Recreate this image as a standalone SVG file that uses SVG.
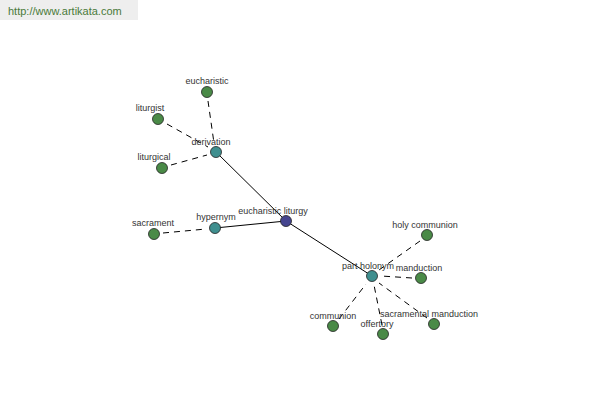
<svg xmlns="http://www.w3.org/2000/svg" width="600" height="400" viewBox="0 0 600 400">
<style>
text{font-family:"Liberation Sans",Arial,sans-serif;font-size:9px;fill:#333;text-anchor:middle}
.s{stroke:#000;stroke-width:1;fill:none}
.d{stroke:#000;stroke-width:1;fill:none;stroke-dasharray:6,5}
.n circle{stroke:#222;stroke-width:0.8}
.root{fill:#45458f}
.hub{fill:#3f8f8f}
.leaf{fill:#4a8a47}
</style>
<rect x="0" y="0" width="138" height="20" fill="#eeeeee"/>
<text x="8" y="15" style="text-anchor:start;font-size:11px;fill:#4a7a3a">http://www.artikata.com</text>
<g id="connectors">
<line class="s" x1="286" y1="221" x2="216" y2="152"/>
<line class="s" x1="286" y1="221" x2="215" y2="228"/>
<line class="s" x1="286" y1="221" x2="372" y2="276"/>
<line class="d" x1="208" y1="101" x2="214" y2="143"/>
<line class="d" x1="167" y1="124" x2="208" y2="147"/>
<line class="d" x1="171" y1="165" x2="207" y2="155"/>
<line class="d" x1="163" y1="233" x2="206" y2="229"/>
<line class="d" x1="420" y1="241" x2="379" y2="270"/>
<line class="d" x1="412" y1="278" x2="381" y2="276"/>
<line class="d" x1="427" y1="318" x2="379" y2="283"/>
<line class="d" x1="382" y1="325" x2="374" y2="285"/>
<line class="d" x1="339" y1="319" x2="366" y2="284"/>
</g>
<g id="eucharistic-liturgy" class="n"><circle class="root" cx="286" cy="221" r="5.5"/><text x="273" y="214">eucharistic liturgy</text></g>
<g id="derivation" class="n"><circle class="hub" cx="216" cy="152" r="5.5"/><text x="211" y="145">derivation</text></g>
<g id="hypernym" class="n"><circle class="hub" cx="215" cy="228" r="5.5"/><text x="216" y="220">hypernym</text></g>
<g id="part-holonym" class="n"><circle class="hub" cx="372" cy="276" r="5.5"/><text x="368" y="269">part holonym</text></g>
<g id="eucharistic" class="n"><circle class="leaf" cx="207" cy="92" r="5.5"/><text x="207" y="84">eucharistic</text></g>
<g id="liturgist" class="n"><circle class="leaf" cx="158" cy="119" r="5.5"/><text x="150" y="111">liturgist</text></g>
<g id="liturgical" class="n"><circle class="leaf" cx="162" cy="168" r="5.5"/><text x="154" y="160">liturgical</text></g>
<g id="sacrament" class="n"><circle class="leaf" cx="154" cy="234" r="5.5"/><text x="153" y="226">sacrament</text></g>
<g id="holy-communion" class="n"><circle class="leaf" cx="427" cy="235" r="5.5"/><text x="425" y="228">holy communion</text></g>
<g id="manduction" class="n"><circle class="leaf" cx="421" cy="278" r="5.5"/><text x="419" y="271">manduction</text></g>
<g id="sacramental-manduction" class="n"><circle class="leaf" cx="434" cy="324" r="5.5"/><text x="429" y="317">sacramental manduction</text></g>
<g id="offertory" class="n"><circle class="leaf" cx="383" cy="334" r="5.5"/><text x="377" y="327">offertory</text></g>
<g id="communion" class="n"><circle class="leaf" cx="333" cy="326" r="5.5"/><text x="333" y="319">communion</text></g>
</svg>
